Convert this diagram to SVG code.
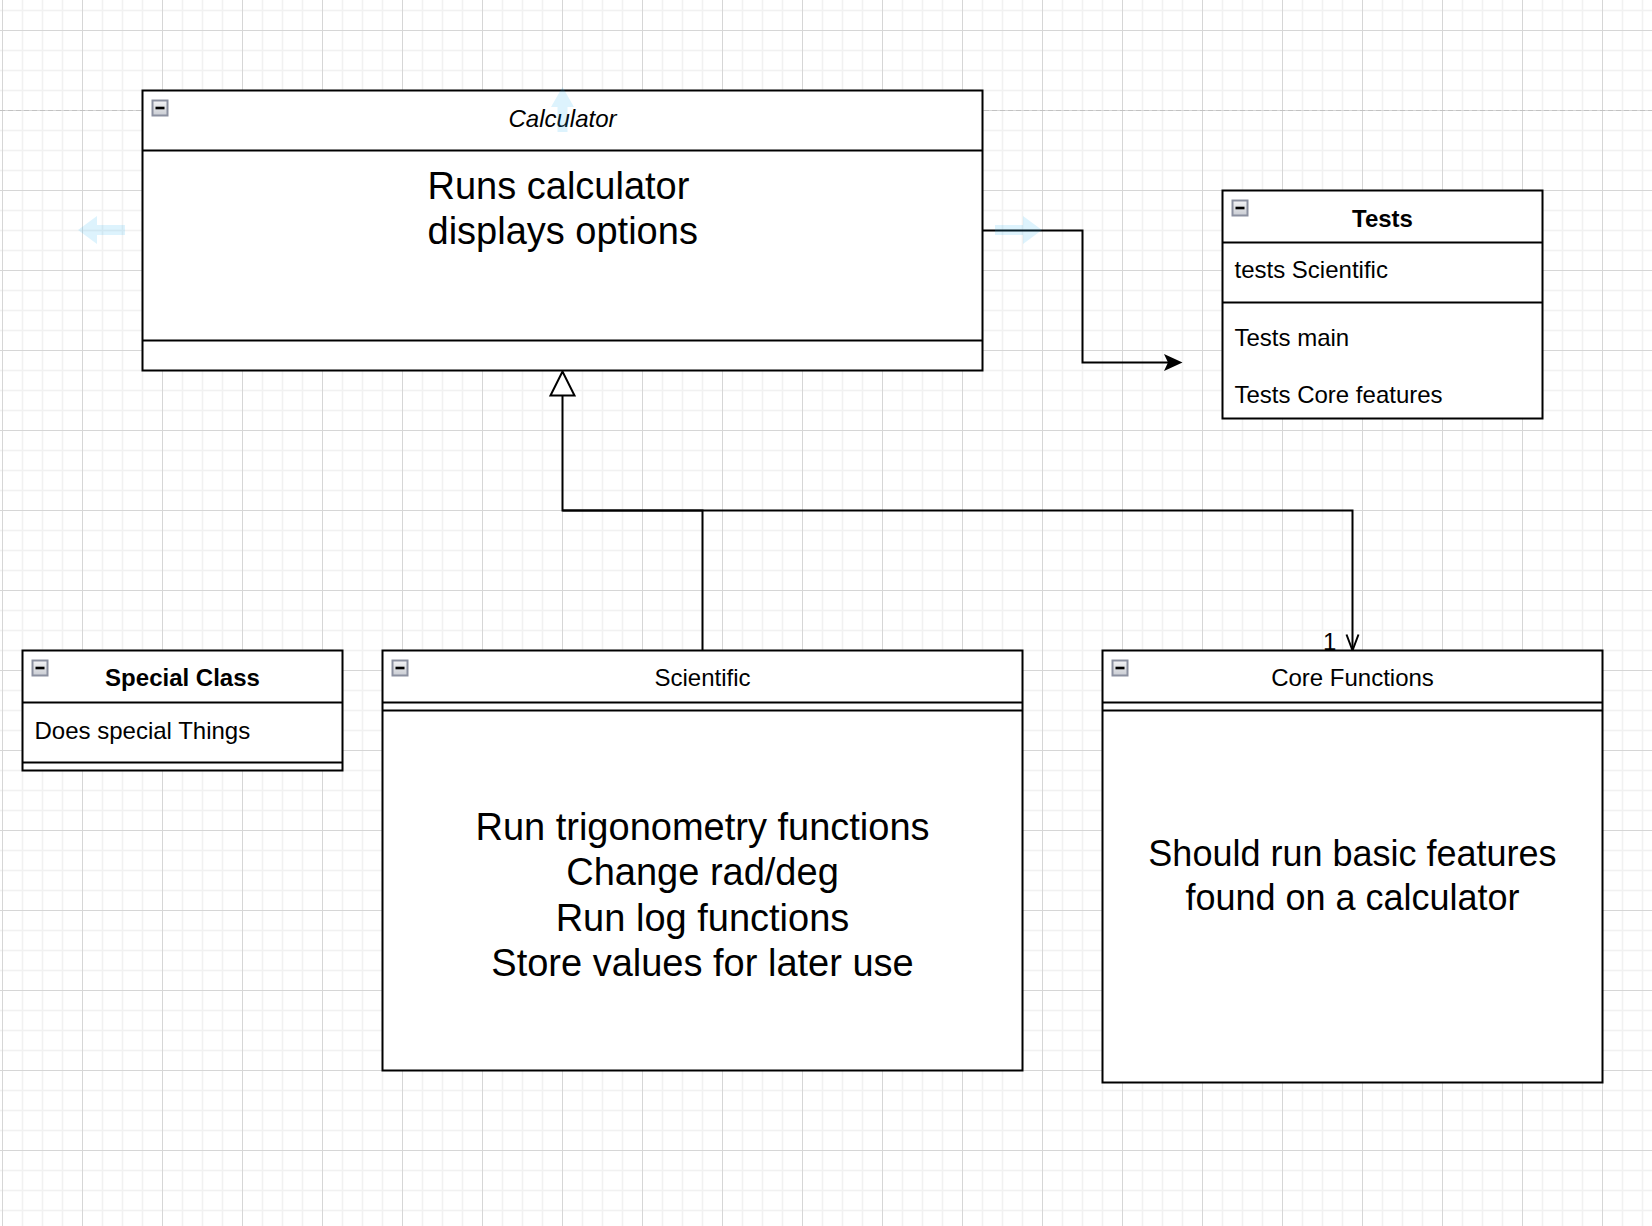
<svg xmlns="http://www.w3.org/2000/svg" width="1652" height="1226" viewBox="0 0 1652 1226">
  <style>
    .box { fill: #ffffff; stroke: #000000; stroke-width: 2; }
    .sep { fill: none; stroke: #000000; stroke-width: 2; }
    .edge { fill: none; stroke: #000000; stroke-width: 2; }
    .t { font-family: "Liberation Sans", Arial, Helvetica, sans-serif; fill: #000000; }
    .title { font-size: 24px; text-anchor: middle; }
    .bold { font-weight: bold; }
    .ital { font-style: italic; }
    .row { font-size: 24px; }
    .big { font-size: 38px; }
    .big36 { font-size: 36px; }
    .mid { text-anchor: middle; }
    .hint { fill: #29b6f2; opacity: 0.16; }
  </style>
  <defs>
    <pattern id="grid" patternUnits="userSpaceOnUse" x="2" y="30" width="80" height="80">
      <rect width="80" height="80" fill="#ffffff"/>
      <path d="M20.5 0V80M40.5 0V80M60.5 0V80M0 20.5H80M0 40.5H80M0 60.5H80" stroke="#f1f1f1" stroke-width="1.5" fill="none"/>
      <path d="M0.5 0V80M0 0.5H80" stroke="#d6d6d6" stroke-width="1" fill="none"/>
    </pattern>
    <linearGradient id="iconFill" x1="0" y1="0" x2="0" y2="1">
      <stop offset="0" stop-color="#f4f4f6"/>
      <stop offset="1" stop-color="#c9ccd3"/>
    </linearGradient>
    <symbol id="minus" overflow="visible">
      <rect x="0" y="0" width="15" height="15" fill="url(#iconFill)" stroke="#8b90a0" stroke-width="2"/>
      <rect x="3" y="6.2" width="9" height="2.6" fill="#000000"/>
    </symbol>
    <marker id="classic" markerUnits="userSpaceOnUse" markerWidth="20" markerHeight="18" refX="4" refY="8.5" orient="auto" overflow="visible">
      <path d="M0 0L18.5 8.5L0 17L4 8.5Z" fill="#000000"/>
    </marker>
    <marker id="hollow" markerUnits="userSpaceOnUse" markerWidth="26" markerHeight="26" refX="0" refY="12" orient="auto" overflow="visible">
      <path d="M0 0L24 12L0 24Z" fill="#ffffff" stroke="#000000" stroke-width="2"/>
    </marker>
    <marker id="open" markerUnits="userSpaceOnUse" markerWidth="18" markerHeight="14" refX="16" refY="6" orient="auto" overflow="visible">
      <path d="M0 0L16 6L0 12" fill="none" stroke="#000000" stroke-width="2"/>
    </marker>
  </defs>

  <rect x="0" y="0" width="1652" height="1226" fill="url(#grid)"/>
  <path d="M0 110.5H1652" stroke="#c2c2c2" stroke-width="1" stroke-dasharray="5 3" fill="none"/>

  <g id="connectors">
    <path class="edge" d="M982.5 230.5H1082.5V362.5H1168" marker-end="url(#classic)"/>
    <path class="edge" d="M702.5 650.5V510.5H562.5V395.5" marker-end="url(#hollow)"/>
    <path class="edge" d="M562.5 510.5H1352.5V650.5" marker-end="url(#open)"/>
    <text class="t row" x="1323" y="649.5">1</text>
  </g>

  <g id="calculator">
    <rect class="box" x="142.5" y="90.5" width="840" height="280"/>
    <path class="sep" d="M142.5 150.5H982.5M142.5 340.5H982.5"/>
    <use href="#minus" x="152.5" y="100.5"/>
    <text class="t title ital" x="562.5" y="126.5">Calculator</text>
    <text class="t big" x="427.5" y="199">Runs calculator</text>
    <text class="t big" x="427.5" y="244">displays options</text>
  </g>

  <g id="tests">
    <rect class="box" x="1222.5" y="190.5" width="320" height="228"/>
    <path class="sep" d="M1222.5 242.5H1542.5M1222.5 302.5H1542.5"/>
    <use href="#minus" x="1232.5" y="200.5"/>
    <text class="t title bold" x="1382.5" y="226.5">Tests</text>
    <text class="t row" x="1234.5" y="277.5">tests Scientific</text>
    <text class="t row" x="1234.5" y="346">Tests main</text>
    <text class="t row" x="1234.5" y="402.5">Tests Core features</text>
  </g>

  <g id="special-class">
    <rect class="box" x="22.5" y="650.5" width="320" height="120"/>
    <path class="sep" d="M22.5 702.5H342.5M22.5 762.5H342.5"/>
    <use href="#minus" x="32.5" y="660.5"/>
    <text class="t title bold" x="182.5" y="685.5">Special Class</text>
    <text class="t row" x="34.5" y="738.5">Does special Things</text>
  </g>

  <g id="scientific">
    <rect class="box" x="382.5" y="650.5" width="640" height="420"/>
    <path class="sep" d="M382.5 702.5H1022.5M382.5 710.5H1022.5"/>
    <use href="#minus" x="392.5" y="660.5"/>
    <text class="t title" x="702.5" y="686">Scientific</text>
    <text class="t big mid" x="702.5" y="839.5">Run trigonometry functions</text>
    <text class="t big mid" x="702.5" y="885">Change rad/deg</text>
    <text class="t big mid" x="702.5" y="930.5">Run log functions</text>
    <text class="t big mid" x="702.5" y="976">Store values for later use</text>
  </g>

  <g id="core-functions">
    <rect class="box" x="1102.5" y="650.5" width="500" height="432"/>
    <path class="sep" d="M1102.5 702.5H1602.5M1102.5 710.5H1602.5"/>
    <use href="#minus" x="1112.5" y="660.5"/>
    <text class="t title" x="1352.5" y="686">Core Functions</text>
    <text class="t big36 mid" x="1352.5" y="866">Should run basic features</text>
    <text class="t big36 mid" x="1352.5" y="909.5">found on a calculator</text>
  </g>

  <g id="hover-hints">
    <path class="hint" d="M78 230L97 216V225H125V235H97V244Z"/>
    <path class="hint" d="M562.5 87L574 107H567.5V132H557.5V107H551Z"/>
    <path class="hint" d="M1042 230L1023 216V225H995V235H1023V244Z"/>
  </g>
</svg>
